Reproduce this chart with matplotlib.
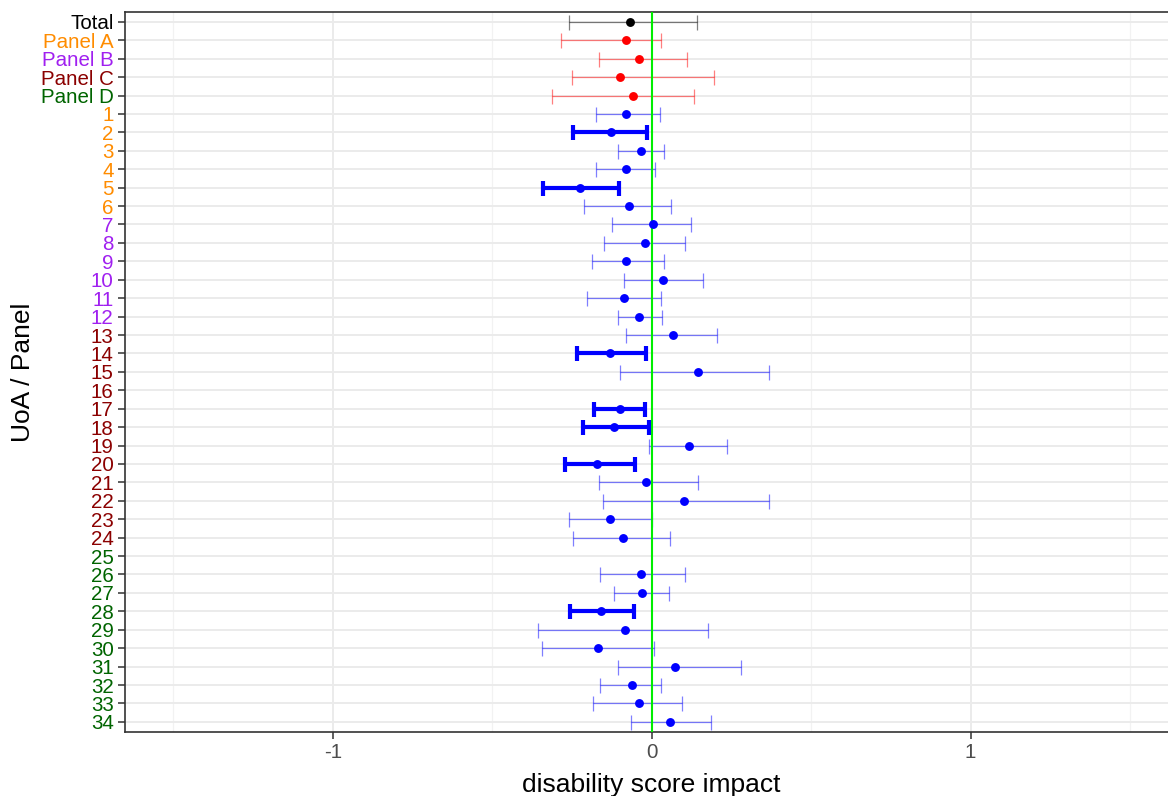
import numpy as np
import matplotlib
matplotlib.use("Agg")
import matplotlib.pyplot as plt

plt.rcParams['font.family'] = ['Liberation Sans', 'DejaVu Sans']

labels = ["Total", "Panel A", "Panel B", "Panel C", "Panel D",
          "1", "2", "3", "4", "5", "6", "7", "8", "9", "10", "11", "12",
          "13", "14", "15", "16", "17", "18", "19", "20", "21", "22", "23", "24",
          "25", "26", "27", "28", "29", "30", "31", "32", "33", "34"]

estimate = [-0.068, -0.081, -0.040, -0.099, -0.058,
            -0.081, -0.129, -0.033, -0.081, -0.225, -0.072,
            0.005, -0.022, -0.081, 0.036, -0.087, -0.040,
            0.068, -0.132, 0.145, np.nan, -0.100, -0.117, 0.117, -0.171,
            -0.017, 0.102, -0.130, -0.091,
            np.nan, -0.034, -0.030, -0.159, -0.083, -0.169, 0.074, -0.061, -0.039, 0.058]

lower = [-0.260, -0.285, -0.164, -0.250, -0.314,
         -0.175, -0.247, -0.105, -0.175, -0.341, -0.213,
         -0.125, -0.150, -0.188, -0.088, -0.202, -0.107,
         -0.080, -0.233, -0.099, np.nan, -0.180, -0.215, -0.008, -0.273,
         -0.164, -0.153, -0.260, -0.247,
         np.nan, -0.161, -0.119, -0.255, -0.356, -0.344, -0.105, -0.161, -0.183, -0.066]

upper = [0.143, 0.029, 0.110, 0.196, 0.133,
         0.026, -0.014, 0.040, 0.011, -0.103, 0.060,
         0.122, 0.105, 0.038, 0.160, 0.029, 0.033,
         0.206, -0.018, 0.367, np.nan, -0.021, -0.008, 0.236, -0.053,
         0.146, 0.367, 0.000, 0.057,
         np.nan, 0.104, 0.054, -0.057, 0.177, 0.007, 0.280, 0.029, 0.096, 0.185]

level = ["total"] + ["panel"] * 4 + ["uoa"] * 34
significant = ["2", "5", "14", "17", "18", "20", "28"]

label_panel = (["Total", "A", "B", "C", "D"] + ["A"] * 6 + ["B"] * 6 +
               ["C"] * 12 + ["D"] * 10)
panel_colors = {"Total": "black", "A": "#FF8C00", "B": "#A020F0",
                "C": "#8B0000", "D": "#006400"}

fig = plt.figure(figsize=(11.68, 7.96), dpi=100)
# right edge of panel intentionally beyond the figure (cropped like reference)
ax = fig.add_axes([124.7 / 1168, 64 / 796, (1178.7 - 124.7) / 1168, 720.3 / 796])

n = len(labels)
ypos = np.arange(n)[::-1]

# grid
for v in [-1.5, -0.5, 0.5, 1.5]:
    ax.axvline(v, color="#F2F2F2", lw=0.9, zorder=0)
for v in [-1, 0, 1]:
    ax.axvline(v, color="#EBEBEB", lw=1.4, zorder=0)
for y in ypos:
    ax.axhline(y, color="#EBEBEB", lw=1.4, zorder=0)

for i in range(n):
    e, lo, hi = estimate[i], lower[i], upper[i]
    if np.isnan(e):
        continue
    y = ypos[i]
    if level[i] == "total":
        ecol, pcol, lw = (0, 0, 0, 0.5), "black", 0.9
    elif level[i] == "panel":
        ecol, pcol, lw = (1, 0, 0, 0.5), "red", 0.9
    else:
        if labels[i] in significant:
            ecol, pcol, lw = (0, 0, 1, 1.0), "blue", 3.0
        else:
            ecol, pcol, lw = (0, 0, 1, 0.5), "blue", 0.9
    ax.errorbar([e], [y], xerr=[[e - lo], [hi - e]], fmt="none",
                ecolor=ecol, elinewidth=lw, capsize=5.4, capthick=lw, zorder=2)
    ax.plot([e], [y], "o", color=pcol, ms=6.4, mew=0, zorder=4)

ax.axvline(0, color="#00EE00", lw=1.5, zorder=3)

ax.set_xlim(-1.653, 1.653)
ax.set_ylim(-0.55, n - 1 + 0.55)
ax.set_yticks(ypos)
ax.set_yticklabels(labels, fontsize=14.8)
for tl, p in zip(ax.get_yticklabels(), label_panel):
    tl.set_color(panel_colors[p])
ax.set_xticks([-1, 0, 1])
ax.set_xticklabels(["-1", "0", "1"], fontsize=14.8, color="#4D4D4D")
ax.tick_params(axis="both", length=5, width=1.1, color="#333333", pad=3)

for s in ax.spines.values():
    s.set_color("#333333")
    s.set_linewidth(1.2)

ax.set_xlabel("disability score impact", fontsize=19, labelpad=8)
ax.set_ylabel("UoA / Panel", fontsize=19, labelpad=4)

fig.savefig("out.png", dpi=100)
